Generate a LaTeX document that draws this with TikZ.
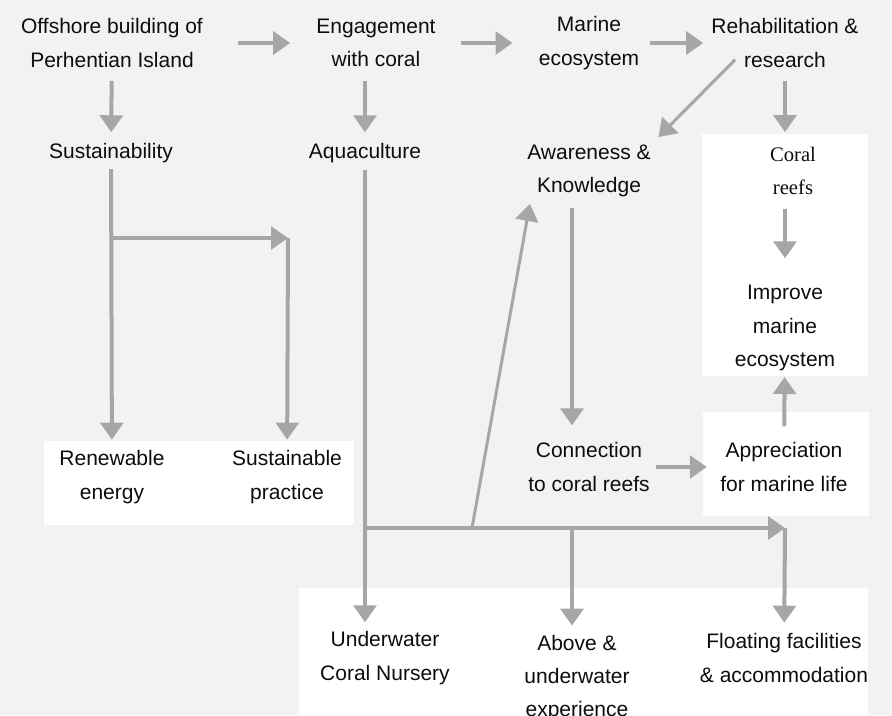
\documentclass[tikz,border=0pt]{standalone}
\usepackage{fontspec}
\setmainfont{Liberation Sans}
\newfontfamily\reefserif{Liberation Serif}
\usetikzlibrary{arrows.meta}
\definecolor{reefbg}{HTML}{F2F2F2}
\definecolor{reefgray}{HTML}{A6A6A6}
\definecolor{reeftext}{HTML}{0D0D0D}

\begin{document}
\begin{tikzpicture}[x=0.75pt,y=-0.75pt,
  lbl/.style={align=center,inner sep=0pt,text=reeftext,
    font=\fontsize{15.75}{25}\selectfont},
  serlbl/.style={lbl,font=\reefserif\fontsize{15.5}{25}\selectfont},
  panel/.style={fill=white},
  arr/.style={-{Triangle[length=12.75pt,width=17pt]},line width=3pt,draw=reefgray},
  arrthin/.style={arr,line width=2.25pt}
]
  \useasboundingbox (0,0) rectangle (892,715);
  \clip (0,0) rectangle (892,715);
  \fill[reefbg] (0,0) rectangle (892,715);

  % white panels
  \fill[panel] (702,134) rectangle (868,376);
  \fill[panel] (703,412) rectangle (869,516);
  \fill[panel] (44,441) rectangle (354,525);
  \fill[panel] (299,588) rectangle (868,720);

  % labels
  \node[lbl] (offshore) at (112,43)  {Offshore building of\\Perhentian Island};
  \node[lbl] (engage)   at (376,43)  {Engagement\\with coral};
  \node[lbl] (marine)   at (589,43)  {Marine\\ecosystem};
  \node[lbl] (rehab)    at (785,43)  {Rehabilitation \&\\research};
  \node[lbl] (sust)     at (111,153) {Sustainability};
  \node[lbl] (aqua)     at (365,153) {Aquaculture};
  \node[lbl] (aware)    at (589,171) {Awareness \&\\Knowledge};
  \node[serlbl] (coral) at (793,171) {Coral\\reefs};
  \node[lbl] (improve)  at (785,328) {Improve\\marine\\ecosystem};
  \node[lbl] (renew)    at (112,477) {Renewable\\energy};
  \node[lbl] (sustprac) at (287,477) {Sustainable\\practice};
  \node[lbl] (conn)     at (589,467) {Connection\\to coral reefs};
  \node[lbl] (appr)     at (784,467) {Appreciation\\for marine life};
  \node[lbl] (under)    at (385,658) {Underwater\\Coral Nursery};
  \node[lbl] (above)    at (577,678) {Above \&\\underwater\\experience};
  \node[lbl] (float)    at (784,658) {Floating facilities\\\& accommodation};

  % branch points
  \coordinate (sbranch) at (112,238);
  \coordinate (scorner) at (288,238);
  \coordinate (abranch) at (366,528);
  \coordinate (fcorner) at (785,528);
  \coordinate (adown)   at (572,528);
  \coordinate (dstart)  at (472,528);

  % top row
  \draw[arr,shorten <=26.5pt,shorten >=19.5pt] (offshore) -- (engage);
  \draw[arr,shorten <=19pt,shorten >=19.5pt] (engage) -- (marine);
  \draw[arr,shorten <=8pt,shorten >=6pt] (marine) -- (rehab);

  % downwards
  \draw[arr,shorten <=10pt,shorten >=8pt] (offshore) -- (sust);
  \draw[arr,shorten <=10pt,shorten >=8pt] (aqua |- engage.south) -- (aqua);
  \draw[arr,shorten <=10pt,shorten >=11pt] (rehab) -- (rehab |- coral.north);
  \draw[arr,shorten <=10pt,shorten >=20pt] (coral.south -| improve) -- (improve);
  \draw[arr,shorten <=12pt,shorten >=4.5pt] (appr) -- (improve);
  \draw[arrthin,shorten >=8pt] ([xshift=18pt,yshift=6pt]rehab.south west) -- (aware.north east);
  \draw[arr,shorten <=8pt,shorten >=12.75pt] ([xshift=-12.75pt]aware.south) -- ([xshift=-12.75pt]conn.north);
  \draw[arr,shorten <=4.5pt,shorten >=10pt] (conn) -- (appr);

  % sustainability
  \draw[arr,shorten <=4.5pt,shorten >=8pt] (sust) -- (renew);
  \draw[arr] (sbranch) -- (scorner);
  \draw[arr,shorten >=8pt] (scorner) -- (sustprac);

  % aquaculture
  \draw[arr,shorten <=5pt,shorten >=6.75pt] (aqua) -- (aqua |- under.north);
  \draw[arr] (abranch) -- (fcorner);
  \draw[arr,shorten >=8pt] (fcorner) -- (float);
  \draw[arr,shorten >=6.75pt] (adown) -- (adown |- above.north);
  \draw[arrthin,shorten >=5pt] (dstart) -- ([xshift=3pt]aware.south west);
\end{tikzpicture}
\end{document}
